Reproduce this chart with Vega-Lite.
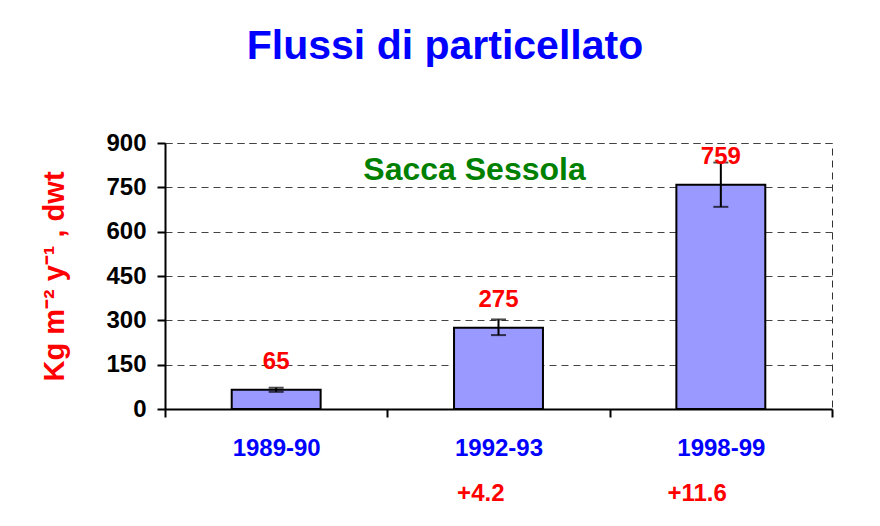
{
  "$schema": "https://vega.github.io/schema/vega-lite/v6.json",
  "padding": {"left": 40, "top": 25, "right": 5, "bottom": 5},
  "background": "white",
  "title": {
    "text": "Flussi di particellato",
    "font": "Liberation Sans",
    "fontSize": 41,
    "fontWeight": "bold",
    "color": "#0000FF",
    "anchor": "middle",
    "dx": 8,
    "offset": 63
  },
  "data": {
    "values": [
      {"period": "1989-90", "flux": 65, "low": 58, "high": 72, "change": ""},
      {"period": "1992-93", "flux": 275, "low": 250, "high": 303, "change": "+4.2"},
      {"period": "1998-99", "flux": 759, "low": 684, "high": 834, "change": "+11.6"}
    ]
  },
  "spacing": 13,
  "vconcat": [
    {
      "width": 667,
      "height": 266,
      "encoding": {
        "x": {
          "field": "period",
          "type": "nominal",
          "sort": null,
          "scale": {"paddingInner": 0, "paddingOuter": 0},
          "axis": {
            "title": null,
            "labelAngle": 0,
            "labelFont": "Liberation Sans",
            "labelFontSize": 24,
            "labelFontWeight": "bold",
            "labelColor": "#0000FF",
            "labelPadding": 19,
            "tickBand": "extent",
            "tickSize": 8,
            "tickWidth": 2,
            "tickColor": "black",
            "domainColor": "black",
            "domainWidth": 2,
            "grid": false
          }
        }
      },
      "layer": [
        {
          "mark": {"type": "bar", "width": {"band": 0.4}, "fill": "#9999FF", "stroke": "black", "strokeWidth": 2},
          "encoding": {
            "y": {
              "field": "flux",
              "type": "quantitative",
              "title": "Kg m⁻² y⁻¹ , dwt",
              "scale": {"domain": [0, 900], "nice": false},
              "axis": {
                "values": [0, 150, 300, 450, 600, 750, 900],
                "titleFont": "Liberation Sans",
                "titleFontSize": 29,
                "titleFontWeight": "bold",
                "titleColor": "#FF0000",
                "titlePadding": 36,
                "labelFont": "Liberation Sans",
                "labelFontSize": 24,
                "labelFontWeight": "bold",
                "labelColor": "black",
                "labelPadding": 11,
                "tickSize": 8,
                "tickWidth": 2,
                "tickColor": "black",
                "domainColor": "black",
                "domainWidth": 2,
                "grid": true,
                "gridColor": "#444444",
                "gridDash": [7, 5],
                "gridWidth": 1
              }
            }
          }
        },
        {
          "mark": {"type": "errorbar", "color": "black", "thickness": 2, "ticks": {"size": 15, "thickness": 2, "color": "black"}},
          "encoding": {
            "y": {"field": "low", "type": "quantitative", "title": "Kg m⁻² y⁻¹ , dwt"},
            "y2": {"field": "high"}
          }
        },
        {
          "mark": {"type": "text", "font": "Liberation Sans", "fontSize": 24, "fontWeight": "bold", "color": "#FF0000", "baseline": "middle", "dy": -28},
          "encoding": {
            "y": {"field": "flux", "type": "quantitative", "title": "Kg m⁻² y⁻¹ , dwt"},
            "text": {"field": "flux", "type": "quantitative"}
          }
        },
        {
          "data": {"values": [{"site": "Sacca Sessola"}]},
          "mark": {"type": "text", "font": "Liberation Sans", "fontSize": 32, "fontWeight": "bold", "color": "#008000", "baseline": "middle", "dx": -24},
          "encoding": {
            "x": {"datum": "1992-93"},
            "y": {"datum": 810, "title": "Kg m⁻² y⁻¹ , dwt"},
            "text": {"field": "site"}
          }
        }
      ]
    },
    {
      "width": 667,
      "height": 40,
      "view": {"stroke": null},
      "mark": {"type": "text", "font": "Liberation Sans", "fontSize": 24, "fontWeight": "bold", "color": "#FF0000", "align": "right", "baseline": "middle", "dx": 6},
      "encoding": {
        "x": {
          "field": "period",
          "type": "nominal",
          "sort": null,
          "scale": {"paddingInner": 0, "paddingOuter": 0},
          "axis": null
        },
        "text": {"field": "change"}
      }
    }
  ],
  "config": {
    "view": {"stroke": "#333333", "strokeDash": [7, 5], "strokeWidth": 1}
  }
}
